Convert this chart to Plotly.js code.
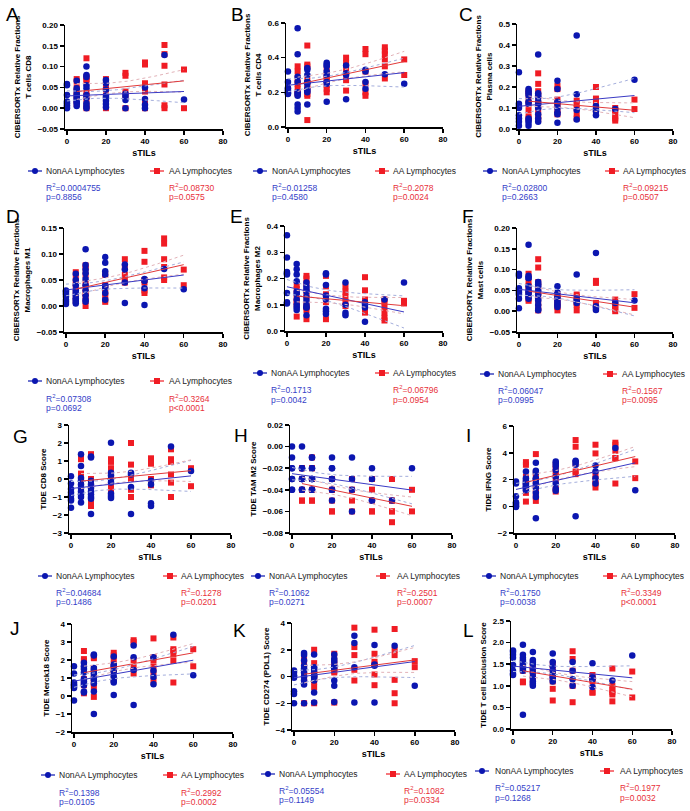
<!DOCTYPE html>
<html><head><meta charset="utf-8">
<script src="https://cdn.plot.ly/plotly-3.0.1.min.js"></script>
<style>body{margin:0;background:#fff}#chart{width:690px;height:811px}</style>
</head><body><div id="chart"></div>
<script>
// ---- shared sTILs values (same patients in every panel) ----
const xNonAA = [0,0,0,0,0,0,0,0, 5,5,5,5,5,5,5,5,5,5, 10,10,10,10,10,10,10,10,10,10, 20,20,20,20,20,20,20,20, 30,30,30,30, 40,40,40,40, 50, 60];
const xAA = [5,5,5,5,5,5,5, 10,10,10,10,10,10,10,10,10, 20,20,20,20,20,20,20, 30,30,30,30,30, 40,40,40,40,40,40, 50,50,50,50,50,50, 60,60];

// ---- panel values ----
const yA_non = [0.058,0.055,0.032,0.016,0.012,0.007,0.003,0.0, 0.066,0.048,0.042,0.035,0.030,0.025,0.020,0.015,0.012,0.005, 0.100,0.080,0.075,0.055,0.048,0.032,0.025,0.012,0.005,0.0, 0.068,0.060,0.045,0.030,0.025,0.018,0.010,0.002, 0.035,0.028,0.020,0.0, 0.050,0.022,0.008,0.0, 0.128, 0.021];
const yA_aa = [0.070,0.065,0.050,0.040,0.030,0.020,0.010, 0.120,0.075,0.070,0.065,0.035,0.030,0.020,0.005,0.0, 0.070,0.065,0.050,0.045,0.030,0.020,0.0, 0.085,0.078,0.040,0.030,0.0, 0.110,0.105,0.060,0.040,0.012,0.0, 0.152,0.130,0.102,0.057,0.007,0.0, 0.093,0.0];

const yB_non = [0.32,0.26,0.225,0.22,0.21,0.20,0.195,0.19, 0.57,0.42,0.29,0.26,0.20,0.19,0.18,0.13,0.11,0.09, 0.34,0.33,0.30,0.26,0.25,0.22,0.21,0.20,0.13,0.26, 0.37,0.36,0.35,0.32,0.30,0.26,0.25,0.145, 0.355,0.31,0.30,0.16, 0.33,0.32,0.26,0.22, 0.305, 0.25];
const yB_aa = [0.35,0.32,0.28,0.25,0.22,0.20,0.19, 0.47,0.36,0.35,0.27,0.24,0.22,0.19,0.18,0.04, 0.34,0.30,0.28,0.27,0.24,0.22,0.20, 0.40,0.37,0.33,0.27,0.21, 0.45,0.42,0.32,0.25,0.20,0.18, 0.46,0.44,0.42,0.39,0.35,0.28, 0.39,0.30];

const yC_non = [0.27,0.12,0.11,0.10,0.065,0.05,0.035,0.015, 0.19,0.18,0.17,0.16,0.13,0.12,0.05,0.04,0.03,0.015, 0.355,0.17,0.16,0.15,0.13,0.12,0.10,0.07,0.05,0.035, 0.23,0.19,0.13,0.12,0.10,0.08,0.07,0.03, 0.445,0.165,0.09,0.045, 0.11,0.095,0.085,0.065, 0.095, 0.235];
const yC_aa = [0.18,0.17,0.14,0.12,0.09,0.06,0.05, 0.265,0.215,0.18,0.16,0.13,0.11,0.09,0.06,0.045, 0.205,0.19,0.14,0.12,0.11,0.09,0.07, 0.135,0.12,0.10,0.07,0.05, 0.20,0.145,0.13,0.12,0.09,0.08, 0.10,0.09,0.08,0.06,0.05,0.04, 0.14,0.095];

const yD_non = [0.030,0.028,0.025,0.022,0.018,0.012,0.008,0.004, 0.062,0.050,0.040,0.030,0.025,0.020,0.015,0.012,0.008,0.005, 0.109,0.079,0.070,0.063,0.052,0.040,0.030,0.020,0.012,0.008, 0.094,0.083,0.067,0.060,0.040,0.035,0.025,0.012, 0.080,0.070,0.045,0.006, 0.052,0.048,0.034,0.002, 0.071, 0.032];
const yD_aa = [0.065,0.055,0.045,0.040,0.030,0.020,0.010, 0.078,0.072,0.060,0.045,0.035,0.025,0.020,0.010,0.0, 0.060,0.040,0.035,0.025,0.020,0.012,0.008, 0.090,0.075,0.060,0.050,0.045, 0.106,0.085,0.050,0.045,0.030,0.025, 0.130,0.120,0.090,0.075,0.055,0.050, 0.070,0.040];

const yE_non = [0.365,0.28,0.225,0.22,0.215,0.145,0.11,0.105, 0.255,0.235,0.215,0.19,0.15,0.14,0.12,0.10,0.09,0.08, 0.185,0.17,0.16,0.15,0.13,0.115,0.10,0.09,0.09,0.06, 0.22,0.215,0.175,0.135,0.12,0.085,0.075,0.065, 0.185,0.10,0.07,0.06, 0.11,0.10,0.09,0.035, 0.12, 0.185];
const yE_aa = [0.175,0.16,0.14,0.12,0.11,0.10,0.055, 0.21,0.20,0.18,0.15,0.13,0.10,0.09,0.08,0.045, 0.21,0.17,0.14,0.13,0.11,0.075,0.045, 0.17,0.15,0.13,0.11,0.095, 0.205,0.155,0.12,0.10,0.08,0.07, 0.12,0.11,0.09,0.07,0.05,0.04, 0.115,0.105];

const yF_non = [0.09,0.085,0.055,0.05,0.045,0.04,0.03,0.007, 0.16,0.085,0.08,0.08,0.06,0.05,0.045,0.04,0.035,0.03, 0.07,0.065,0.06,0.05,0.04,0.03,0.025,0.015,0.005,0.002, 0.06,0.045,0.035,0.03,0.025,0.02,0.015,0.01, 0.088,0.03,0.025,0.02, 0.14,0.012,0.008,0.003, 0.02, 0.026];
const yF_aa = [0.09,0.07,0.06,0.05,0.04,0.03,0.025, 0.125,0.105,0.07,0.06,0.045,0.035,0.02,0.01,0.002, 0.04,0.035,0.03,0.02,0.015,0.01,0.002, 0.04,0.035,0.02,0.015,0.002, 0.073,0.068,0.02,0.015,0.01,0.005, 0.028,0.02,0.015,0.01,0.005,0.0, 0.041,0.008];

const yG_non = [0.15,-0.25,-0.55,-0.75,-0.9,-1.1,-1.2,-1.6, 1.38,0.72,0.05,-0.1,-0.3,-0.5,-0.7,-0.85,-1.0,-1.3, 1.25,1.2,-0.1,-0.3,-0.5,-0.7,-0.85,-1.0,-1.1,-1.95, 2.02,0.35,0.2,0.0,-0.2,-0.8,-0.95,-1.05, 0.35,0.25,-0.45,-1.95, -0.1,-0.3,-1.35,-1.5, 1.8, 0.45];
const yG_aa = [1.2,1.1,0.3,-0.3,-0.5,-0.8,-0.95, 1.38,1.3,0.0,-0.3,-0.6,-0.9,-1.1,-1.2,-1.5, 1.1,0.95,0.6,0.2,-0.2,-0.4,-0.6, 2.0,0.8,0.0,-0.6,-1.0, 1.15,0.85,0.0,-0.1,-0.25,-0.35, 1.65,1.1,0.95,0.25,-0.2,-1.0, 0.6,-0.4];

const yH_non = [0.0,-0.01,-0.02,-0.02,-0.03,-0.03,-0.04,-0.04, 0.0,-0.02,-0.02,-0.03,-0.03,-0.04,-0.04,-0.04,-0.03,-0.02, -0.01,-0.01,-0.02,-0.03,-0.03,-0.04,-0.04,-0.03,-0.04,-0.02, -0.01,-0.02,-0.03,-0.03,-0.04,-0.05,-0.02,-0.04, -0.01,-0.03,-0.04,-0.06, -0.02,-0.03,-0.05,-0.05, -0.05, -0.02];
const yH_aa = [-0.02,-0.03,-0.04,-0.05,-0.05,-0.04,-0.02, -0.01,-0.02,-0.03,-0.04,-0.05,-0.05,-0.03,-0.04,-0.02, -0.03,-0.04,-0.05,-0.06,-0.06,-0.04,-0.03, -0.03,-0.04,-0.05,-0.06,-0.04, -0.03,-0.04,-0.05,-0.06,-0.06,-0.04, -0.03,-0.05,-0.06,-0.07,-0.06,-0.05, -0.04,-0.06];

const yI_non = [1.85,1.7,0.75,0.3,0.2,0.1,0.0,-0.05, 2.6,2.1,1.9,1.8,1.7,1.6,1.5,1.4,1.3,1.2, 3.25,2.65,2.5,2.1,2.0,1.7,1.4,1.0,0.7,-0.9, 3.35,3.2,3.0,2.7,2.2,1.7,1.3,1.15, 3.4,3.3,3.1,-0.75, 3.05,2.6,2.1,1.7, 4.35, 1.2];
const yI_aa = [3.3,3.1,2.2,1.8,1.5,1.0,0.35, 3.9,2.5,2.2,1.9,1.6,1.3,1.0,0.7,0.4, 3.1,2.8,2.6,2.3,2.0,1.3,1.1, 4.95,4.45,3.2,2.6,2.4, 4.6,3.95,2.4,2.0,1.7,1.4, 4.75,4.6,4.15,3.6,3.6,1.7, 3.35,2.1];

const yJ_non = [1.65,1.25,0.75,0.65,0.6,0.5,0.45,-0.25, 1.85,1.65,1.5,1.3,0.95,0.8,0.7,0.6,0.25,0.2, 2.3,2.25,1.55,1.45,1.25,1.05,0.9,0.7,0.25,-1.0, 2.2,1.75,1.65,1.35,1.1,0.85,0.75,0.05, 2.8,2.15,1.45,-0.5, 2.15,1.4,1.05,0.65, 3.4, 1.15];
const yJ_aa = [2.5,2.05,1.95,1.6,0.95,0.6,0.15, 2.2,2.1,1.5,1.3,1.0,0.8,0.7,0.5,-0.05, 2.4,2.25,2.05,1.75,1.5,1.4,0.9, 3.1,3.0,2.0,1.6,1.25, 3.2,2.15,2.0,1.65,1.3,0.85, 3.25,2.6,2.5,2.3,1.95,0.75, 2.6,1.65];

const yK_non = [0.45,0.3,0.1,0.0,-0.1,-1.1,-1.3,-2.0, 1.75,1.6,1.2,0.8,0.6,0.3,0.0,-0.3,-0.6,-2.0, 1.65,0.7,0.5,0.3,0.1,0.0,-0.1,-0.3,-1.2,-1.95, 1.65,1.3,1.1,0.8,0.6,-0.3,-0.7,-1.9, 3.05,2.5,0.7,-1.95, 2.35,0.9,0.8,-1.95, 2.3, -0.7];
const yK_aa = [1.3,1.0,0.6,0.2,-0.1,-0.3,-2.0, 2.0,1.0,0.5,0.2,0.0,-0.2,-0.4,-0.8,-2.0, 1.7,1.2,0.9,0.6,0.4,0.3,-1.95, 3.65,2.2,1.6,0.5,-0.3, 3.5,1.7,1.1,0.9,0.15,-0.65, 3.55,2.0,1.6,-0.25,-1.25,-2.0, 1.15,0.7];

const yL_non = [1.82,1.78,1.72,1.65,1.48,1.35,1.28,1.25, 1.95,1.72,1.65,1.6,1.55,1.5,1.45,1.4,1.35,0.33, 1.78,1.6,1.55,1.5,1.4,1.3,1.2,1.1,1.05,1.0, 1.75,1.55,1.45,1.35,1.25,1.2,1.15,1.1, 1.55,1.35,1.15,1.0, 1.52,1.2,1.15,0.97, 1.12, 1.7];
const yL_aa = [1.6,1.5,1.45,1.4,1.35,1.1,1.08, 1.55,1.45,1.4,1.4,1.35,1.3,1.2,1.15,1.1, 1.5,1.4,1.3,1.2,1.1,0.93,0.66, 1.8,1.62,1.35,1.0,0.62, 1.25,1.2,1.15,1.1,0.85,0.84, 1.4,1.0,0.9,0.85,0.8,0.64, 1.33,0.73];

// ---- text ----
const panelLetters = ['A','B','C','D','E','F','G','H','I','J','K','L'];
const yTitles = [
  'CIBERSORTx Relative Fractions<br>T cells CD8',
  'CIBERSORTx Relative Fractions<br>T cells CD4',
  'CIBERSORTx Relative Fractions<br>Plasma cells',
  'CIBERSORTx Relative Fractions<br>Macrophages M1',
  'CIBERSORTx Relative Fractions<br>Macrophages M2',
  'CIBERSORTx Relative Fractions<br>Mast cells',
  'TIDE CD8 Score','TIDE TAM M2 Score','TIDE IFNG Score',
  'TIDE Merck18 Score','TIDE CD274 (PDL1) Score','TIDE T cell Exclusion Score'];
const xTitle = 'sTILs';
const seriesNames = ['NonAA Lymphocytes','AA Lymphocytes'];
const r2Non = ['0.0004755','0.01258','0.02800','0.07308','0.1713','0.06047','0.04684','0.1062','0.1750','0.1398','0.05554','0.05217'];
const pNon  = ['=0.8856','=0.4580','=0.2663','=0.0692','=0.0042','=0.0995','=0.1486','=0.0271','=0.0038','=0.0105','=0.1149','=0.1268'];
const r2AA  = ['0.08730','0.2078','0.09215','0.3264','0.06796','0.1567','0.1278','0.2501','0.3349','0.2992','0.1082','0.1977'];
const pAA   = ['=0.0575','=0.0024','=0.0507','<0.0001','=0.0954','=0.0095','=0.0201','=0.0007','<0.0001','=0.0002','=0.0334','=0.0032'];
const xTicks = [0,20,40,60,80];

const yNonAll = [yA_non,yB_non,yC_non,yD_non,yE_non,yF_non,yG_non,yH_non,yI_non,yJ_non,yK_non,yL_non];
const yAAAll  = [yA_aa,yB_aa,yC_aa,yD_aa,yE_aa,yF_aa,yG_aa,yH_aa,yI_aa,yJ_aa,yK_aa,yL_aa];

// ---- layout geometry (pixels) ----
const geo = [
 {box:[65,223,25,129], yr:[-0.05,0.2], dt:0.05, fmt:'.2f', leg:171,r2:187,p:197, bg:35,bt:45,rg:157,rt:168, lab:[12,14]},
 {box:[286,443,23,127], yr:[0,0.6], dt:0.2, fmt:'.1f', leg:171,r2:187,p:197, bg:260,bt:271,rg:382,rt:392, lab:[237,14]},
 {box:[517,673,24,129], yr:[0,0.5], dt:0.1, fmt:'.1f', leg:171,r2:187,p:197, bg:490,bt:501,rg:612,rt:622, lab:[466,14]},
 {box:[64,223,228,332], yr:[-0.05,0.15], dt:0.05, fmt:'.2f', leg:381,r2:398,p:408, bg:35,bt:45,rg:157,rt:168, lab:[13,216]},
 {box:[285,443,226,331], yr:[0,0.4], dt:0.1, fmt:'.1f', leg:373,r2:389,p:400, bg:260,bt:270,rg:382,rt:392, lab:[236,216]},
 {box:[517,673,228,332], yr:[-0.05,0.2], dt:0.05, fmt:'.2f', leg:374,r2:390,p:400, bg:487,bt:497,rg:610,rt:621, lab:[468,216]},
 {box:[69,231,425,533], yr:[-3,3], dt:1, fmt:'d', leg:576,r2:592,p:602, bg:45,bt:55,rg:170,rt:180, lab:[20,436]},
 {box:[290,452,425,533], yr:[-0.08,0.02], dt:0.02, fmt:'.2f', leg:576,r2:592,p:602, bg:258,bt:268,rg:383,rt:396, lab:[241,435]},
 {box:[514,675,426,533], yr:[-2,6], dt:2, fmt:'d', leg:576,r2:592,p:602, bg:489,bt:499,rg:610,rt:620, lab:[468,435]},
 {box:[72,233,624,732], yr:[-2,4], dt:1, fmt:'d', leg:775,r2:792,p:802, bg:48,bt:58,rg:170,rt:180, lab:[15,628]},
 {box:[292,455,623,730], yr:[-4,4], dt:2, fmt:'d', leg:774,r2:790,p:800, bg:268,bt:278,rg:393,rt:403, lab:[239,630]},
 {box:[511,672,621,729], yr:[0,2.5], dt:0.5, fmt:'.1f', leg:771,r2:787,p:798, bg:482,bt:494,rg:607,rt:619, lab:[468,630]}
];

const W = 690, H = 811;
const px = v => v / W, py = v => 1 - v / H;
const FONT = 'Liberation Sans, Arial, sans-serif';
const BLUE = '#0b16b0', RED = '#f01c24';
const BLUE_LINE = '#3a3ac4', RED_LINE = '#e23a3a';
const BLUE_CI = '#a4aedc', RED_CI = '#e2b2b8';
const BLUE_TXT = '#3440c8', RED_TXT = '#e8303a';

function linFit(x, y) {
  const n = x.length;
  let mx = 0, my = 0;
  for (let i = 0; i < n; i++) { mx += x[i]; my += y[i]; }
  mx /= n; my /= n;
  let sxx = 0, sxy = 0;
  for (let i = 0; i < n; i++) { sxx += (x[i]-mx)**2; sxy += (x[i]-mx)*(y[i]-my); }
  const b = sxy / sxx, a = my - b * mx;
  let sse = 0;
  for (let i = 0; i < n; i++) sse += (y[i] - a - b*x[i])**2;
  const s = Math.sqrt(sse / (n - 2));
  const xmin = Math.min(...x), xmax = Math.max(...x);
  const gx = [], lo = [], hi = [];
  const steps = 40;
  for (let k = 0; k <= steps; k++) {
    const xv = xmin + (xmax - xmin) * k / steps;
    const yv = a + b * xv;
    const se = s * Math.sqrt(1/n + (xv-mx)**2 / sxx);
    gx.push(xv); lo.push(yv - 2.015*se); hi.push(yv + 2.015*se);
  }
  return {line: {x:[xmin,xmax], y:[a+b*xmin, a+b*xmax]}, gx, lo, hi};
}

const traces = [];
const layout = {
  width: W, height: H, margin: {l:0,r:0,t:0,b:0},
  paper_bgcolor: '#fff', plot_bgcolor: '#fff', showlegend: false,
  font: {family: FONT, color: '#000'},
  annotations: [], shapes: []
};

geo.forEach((g, i) => {
  const k = i === 0 ? '' : String(i+1);
  const xa = 'x' + k, ya = 'y' + k;
  const [l, r, t, b] = g.box;
  layout['xaxis' + k] = {
    domain: [px(l), px(r)], range: [-1, 80], anchor: ya,
    tickvals: xTicks, showgrid: false, zeroline: false,
    showline: true, linecolor: '#000', linewidth: 1.5,
    ticks: 'outside', ticklen: 4, tickwidth: 1.5, tickcolor: '#000',
    tickfont: {family: FONT, size: 8, color: '#000', weight: 'bold'},
    title: {text: xTitle, font: {family: FONT, size: 9, color: '#000', weight: 'bold'}, standoff: 4}
  };
  layout['yaxis' + k] = {
    domain: [py(b), py(t)], range: g.yr, anchor: xa, dtick: g.dt, tick0: 0,
    tickformat: g.fmt, showgrid: false, zeroline: false,
    showline: true, linecolor: '#000', linewidth: 1.5,
    ticks: 'outside', ticklen: 4, tickwidth: 1.5, tickcolor: '#000',
    tickfont: {family: FONT, size: 8, color: '#000', weight: 'bold'},
    title: {text: yTitles[i], font: {family: FONT, size: 8, color: '#000', weight: 'bold'}, standoff: 5}
  };

  const fN = linFit(xNonAA, yNonAll[i]);
  const fA = linFit(xAA, yAAAll[i]);

  traces.push({type:'scatter', mode:'markers', x:xAA, y:yAAAll[i], xaxis:xa, yaxis:ya, name:seriesNames[1],
    marker:{symbol:'square', size:6, color:RED}, cliponaxis:false});
  traces.push({type:'scatter', mode:'markers', x:xNonAA, y:yNonAll[i], xaxis:xa, yaxis:ya, name:seriesNames[0],
    marker:{symbol:'circle', size:6.5, color:BLUE}, cliponaxis:false});
  [[fN, BLUE_CI], [fA, RED_CI]].forEach(([f, c]) => {
    traces.push({type:'scatter', mode:'lines', x:f.gx, y:f.hi, xaxis:xa, yaxis:ya, line:{color:c, width:1, dash:'dot'}, hoverinfo:'skip'});
    traces.push({type:'scatter', mode:'lines', x:f.gx, y:f.lo, xaxis:xa, yaxis:ya, line:{color:c, width:1, dash:'dot'}, hoverinfo:'skip'});
  });
  traces.push({type:'scatter', mode:'lines', x:fN.line.x, y:fN.line.y, xaxis:xa, yaxis:ya, line:{color:BLUE_LINE, width:1}});
  traces.push({type:'scatter', mode:'lines', x:fA.line.x, y:fA.line.y, xaxis:xa, yaxis:ya, line:{color:RED_LINE, width:1}});

  layout.annotations.push({xref:'paper', yref:'paper', x:px(g.lab[0]), y:py(g.lab[1]), text:panelLetters[i],
    showarrow:false, xanchor:'center', yanchor:'middle', font:{family:FONT, size:19, color:'#000'}});

  layout.shapes.push({type:'line', xref:'paper', yref:'paper', x0:px(g.bg-7), x1:px(g.bg+7), y0:py(g.leg), y1:py(g.leg), line:{color:BLUE, width:1.2}});
  layout.shapes.push({type:'circle', xref:'paper', yref:'paper', x0:px(g.bg-3), x1:px(g.bg+3), y0:py(g.leg+3), y1:py(g.leg-3), fillcolor:BLUE, line:{width:0}});
  layout.shapes.push({type:'line', xref:'paper', yref:'paper', x0:px(g.rg-7), x1:px(g.rg+7), y0:py(g.leg), y1:py(g.leg), line:{color:RED, width:1.2}});
  layout.shapes.push({type:'rect', xref:'paper', yref:'paper', x0:px(g.rg-3), x1:px(g.rg+3), y0:py(g.leg+3), y1:py(g.leg-3), fillcolor:RED, line:{width:0}});

  const txt = (x, y, text, color) => layout.annotations.push({xref:'paper', yref:'paper', x:px(x), y:py(y), text,
    showarrow:false, xanchor:'left', yanchor:'middle', borderpad:0, font:{family:FONT, size:8.5, color}});
  txt(g.bt, g.leg, seriesNames[0], '#222');
  txt(g.rt, g.leg, seriesNames[1], '#222');
  txt(g.bt, g.r2, 'R<sup>2</sup>=' + r2Non[i], BLUE_TXT);
  txt(g.bt, g.p, 'p' + pNon[i], BLUE_TXT);
  txt(g.rt, g.r2, 'R<sup>2</sup>=' + r2AA[i], RED_TXT);
  txt(g.rt, g.p, 'p' + pAA[i], RED_TXT);
});

Plotly.newPlot('chart', traces, layout, {staticPlot: true, displayModeBar: false});
</script>
</body></html>
